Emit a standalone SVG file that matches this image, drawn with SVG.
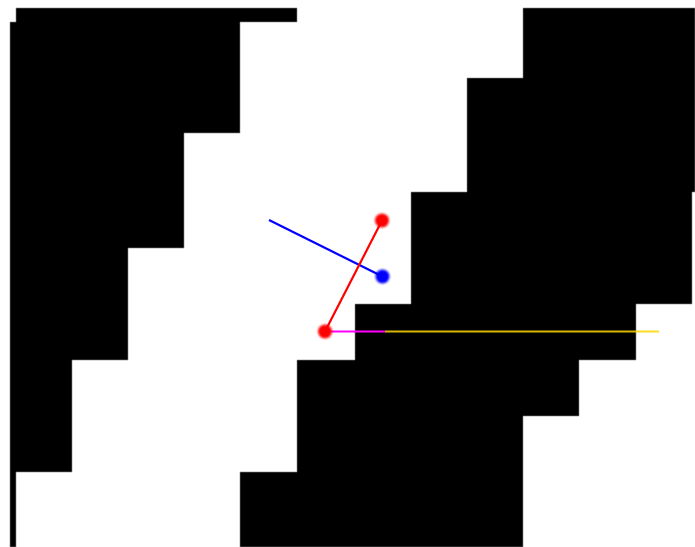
<svg xmlns="http://www.w3.org/2000/svg" width="695" height="547" viewBox="0 0 695 547">
  <defs>
    <style>
      .blk { fill: #000; stroke: #888; stroke-width: 0.6; }
      .dot { filter: url(#soft); }
      .seg { stroke-width: 2.2; filter: url(#softline); }
    </style>
    <filter id="soft" x="-50%" y="-50%" width="200%" height="200%">
      <feGaussianBlur stdDeviation="1.1"/>
    </filter>
    <filter id="softline" x="-10%" y="-10%" width="120%" height="120%">
      <feGaussianBlur stdDeviation="0.5"/>
    </filter>
  </defs>
  <rect width="695" height="547" fill="#fff"/>
  <g id="left-region">
    <polygon class="blk" points="16,8 297,8 297,22 240,22 240,133 184,133 184,248 128,248 128,360 72,360 72,472 16,472 16,547 10,547 10,22 16,22"/>
  </g>
  <g id="right-region">
    <polygon class="blk" points="523,8 695,8 695,192 692,192 692,304 636,304 636,360 579,360 579,416 523,416 523,547 240,547 240,472 297,472 297,360 355,360 355,304 411,304 411,192 467,192 467,78 523,78"/>
  </g>
  <g id="connectors">
    <line x1="385" y1="331.5" x2="659" y2="331.5" stroke="#ffd700" stroke-opacity="0.85" stroke-width="2"/>
    <line x1="325" y1="331.5" x2="385" y2="331.5" stroke="#ff00ff" stroke-width="2"/>
    <line class="seg" x1="269" y1="220" x2="382.5" y2="276.5" stroke="#0000ff"/>
    <line class="seg" x1="325" y1="331.5" x2="382" y2="220.5" stroke="#ff0000"/>
  </g>
  <g id="dot-red-top"><circle class="dot" cx="382" cy="220.5" r="7" fill="#ff0000"/></g>
  <g id="dot-blue"><circle class="dot" cx="382.5" cy="276.5" r="7" fill="#0000ff"/></g>
  <g id="dot-red-bottom"><circle class="dot" cx="325" cy="331.5" r="7" fill="#ff0000"/></g>
</svg>
